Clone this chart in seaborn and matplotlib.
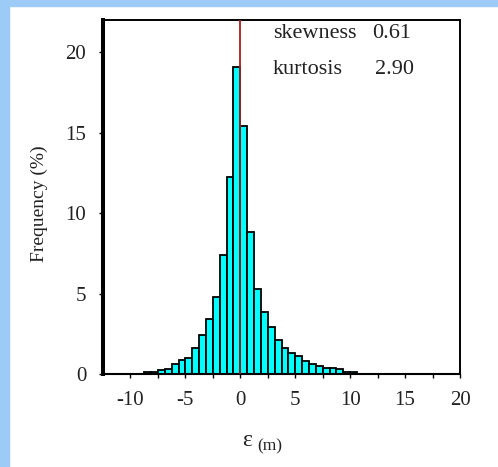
import matplotlib
matplotlib.use("Agg")
import matplotlib.pyplot as plt
import numpy as np
import pandas as pd
import seaborn as sns
from matplotlib.patches import Rectangle

# histogram of epsilon (m), bin width 0.625, edges from -8.75 to 10.625
bin_start = -8.75
bin_width = 0.625
freq_left = [0.15, 0.15, 0.25, 0.3, 0.65, 0.85, 1.0, 1.6, 2.45, 3.4,
             4.8, 7.4, 12.25, 19.1]
freq_right = [15.4, 8.8, 5.3, 3.85, 2.9, 2.1, 1.6, 1.3, 1.1, 0.83,
              0.65, 0.5, 0.35, 0.35, 0.3, 0.15, 0.1]
freq = freq_left + freq_right
stats_labels = ["skewness", "kurtosis"]
stats_values = ["0.61", "2.90"]
x_ticks = [-10, -5, 0, 5, 10, 15, 20]
y_ticks = [0, 5, 10, 15, 20]

edges = [bin_start + bin_width * i for i in range(len(freq) + 1)]
df = pd.DataFrame({"eps": [(a + b) / 2 for a, b in zip(edges[:-1], edges[1:])],
                   "pct": freq})

sns.set_style("white")
plt.rcParams['font.family'] = ['Liberation Serif', 'DejaVu Serif']
plt.rcParams['axes.unicode_minus'] = False

fig = plt.figure(figsize=(4.98, 4.67), dpi=100)
fig.patch.set_facecolor("white")
blue = "#9DCBF7"
fig.patches.append(Rectangle((0, 1 - 6 / 467), 1, 6 / 467, transform=fig.transFigure,
                             color=blue, zorder=0))
fig.patches.append(Rectangle((0, 0), 9 / 498, 1, transform=fig.transFigure,
                             color=blue, zorder=0))

ax = fig.add_axes([103 / 498, 1 - 374 / 467, 357 / 498, 354 / 467])
sns.histplot(data=df, x="eps", weights="pct", bins=edges, ax=ax, color="#00FFFF",
             alpha=1, edgecolor="black", linewidth=1.3)
ax.axvline(0, color="#A52020", lw=1.3, zorder=5)

ax.set_xlim(-12.5, 20)
ax.set_ylim(0, 22)
ax.set_xticks(x_ticks)
ax.set_xticks(np.arange(-10, 20.1, 2.5), minor=True)
ax.set_yticks(y_ticks)
ax.tick_params(axis="both", which="both", direction="out", length=3, width=1,
               color="black", labelsize=15, labelcolor="#222222")
ax.tick_params(axis="x", which="both", bottom=True, pad=9)
ax.tick_params(axis="y", left=True, pad=9)
ax.set_xlabel("")
ax.set_ylabel("")

for side in ["top", "right"]:
    ax.spines[side].set_linewidth(1.4)
ax.spines["bottom"].set_linewidth(1.5)
ax.spines["left"].set_linewidth(2.9)
for s in ax.spines.values():
    s.set_color("black")

for i, (lab, val) in enumerate(zip(stats_labels, stats_values)):
    y = 0.963 - i * 0.104
    ax.text(0.476, y, lab, transform=ax.transAxes, fontsize=16, va="center",
            color="#222222")
    ax.text(0.755 if i == 0 else 0.762, y, val, transform=ax.transAxes,
            fontsize=16, va="center", color="#222222")

fig.text(39 / 498, 1 - 204 / 467, "Frequency (%)", rotation=90, ha="center",
         va="center", fontsize=14, color="#222222")
fig.text(252 / 498, 1 - 441 / 467, "ε", ha="right", va="center", fontsize=17,
         color="#222222")
fig.text(257 / 498, 1 - 446 / 467, "(m)", ha="left", va="center", fontsize=12.5,
         color="#222222")

fig.savefig("out.png", dpi=100)
